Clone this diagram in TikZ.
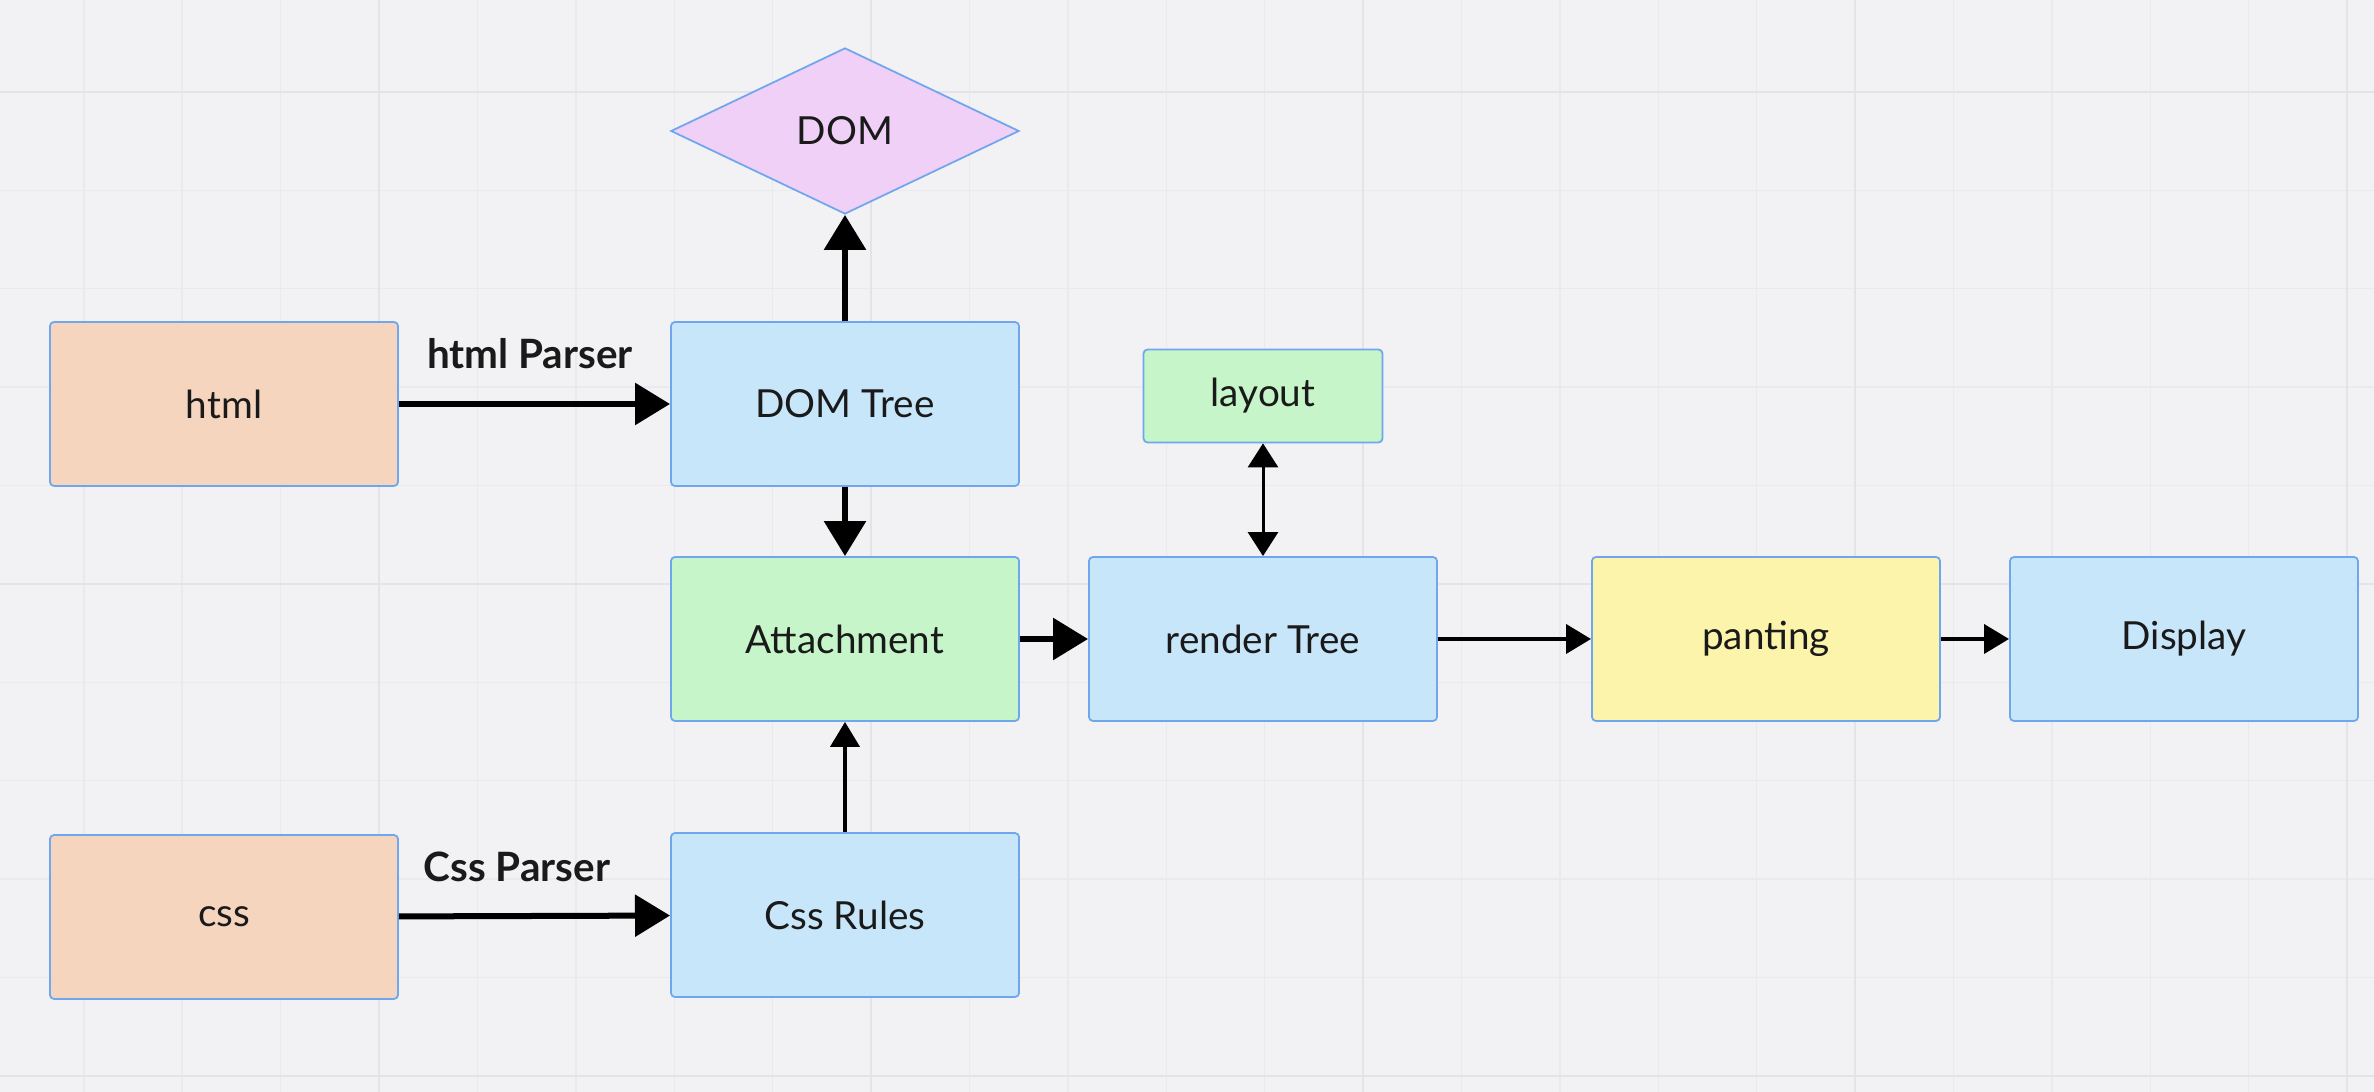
\documentclass[tikz,border=0pt]{standalone}
\usepackage{fontspec}
\setmainfont{Lato}
\usepackage{xcolor}
\usepackage{tikz}
\usetikzlibrary{positioning}
\usetikzlibrary{arrows.meta}
\usetikzlibrary{shapes.geometric}
\definecolor{canvas}{HTML}{F2F2F4}
\definecolor{gridminor}{HTML}{EAEAEE}
\definecolor{gridmajor}{HTML}{E3E3E8}
\definecolor{edgeblue}{HTML}{6FA6EE}
\definecolor{peach}{HTML}{F5D5BE}
\definecolor{skyblue}{HTML}{C8E6FA}
\definecolor{mint}{HTML}{C6F5CA}
\definecolor{lemon}{HTML}{FCF4AB}
\definecolor{lilac}{HTML}{F0D0F6}
\definecolor{ink}{HTML}{1A1A1A}
\tikzset{
	every node/.style={
		font=\fontsize{11}{13}\selectfont,
		text=ink},
	box/.style={
		draw=edgeblue,
		line width=0.5pt,
		rounded corners=1.2pt,
		minimum width=3.48cm,
		minimum height=1.64cm,
		inner sep=0pt},
	smallbox/.style={
		box,
		minimum width=2.39cm,
		minimum height=0.93cm},
	decision/.style={
		diamond,
		draw=edgeblue,
		line width=0.5pt,
		fill=lilac,
		aspect=2.1,
		minimum width=3.48cm,
		minimum height=1.66cm,
		inner sep=0pt},
	flowlabel/.style={
		font=\fontsize{11.5}{13}\selectfont\bfseries},
	bigarrow/.style={
		draw,
		line width=0.06cm,
		-{Triangle[length=0.35cm,width=0.41cm]}},
	smallarrow/.style={
		draw,
		line width=0.04cm,
		-{Triangle[length=0.25cm,width=0.29cm]}},
	twoway/.style={
		draw,
		line width=0.03cm,
		{Triangle[length=0.24cm,width=0.30cm]}-{Triangle[length=0.24cm,width=0.30cm]}}
}

\begin{document}
\begin{tikzpicture}[x=0.01cm, y=-0.01cm]
	% canvas and grid
	\fill[canvas] (0,0) rectangle (2374,1092);
	\useasboundingbox (0,0) rectangle (2374,1092);
	\foreach \i in {0,...,23}
		\draw[gridminor, line width=0.4pt] ({83.8+98.4*\i},0) -- ({83.8+98.4*\i},1092);
	\foreach \i in {0,...,10}
		\draw[gridminor, line width=0.4pt] (0,{-6.4+98.4*\i}) -- (2374,{-6.4+98.4*\i});
	\foreach \i in {0,...,4}
		\draw[gridmajor, line width=0.8pt] ({379+492*\i},0) -- ({379+492*\i},1092);
	\foreach \i in {0,...,2}
		\draw[gridmajor, line width=0.8pt] (0,{92+492*\i}) -- (2374,{92+492*\i});

	% nodes
	\node[box, fill=peach] (html) at (224,404) {html};
	\node[box, fill=peach] (css) at (224,917) {css};
	\node[box, fill=skyblue] (domtree) at (845,404) {DOM Tree};
	\node[decision] (dom) at (845,131) {DOM};
	\node[box, fill=mint] (attach) at (845,639) {Attachment};
	\node[box, fill=skyblue] (cssrules) at (845,915) {Css Rules};
	\node[smallbox, fill=mint] (layout) at (1263,396) {layout};
	\node[box, fill=skyblue] (render) at (1263,639) {render Tree};
	\node[box, fill=lemon] (panting) at (1766,639) {panting};
	\node[box, fill=skyblue] (display) at (2184,639) {Display};

	% edge labels
	\node[flowlabel] (htmlparser) at (530,354) {html Parser};
	\node[flowlabel] (cssparser) at (517,867) {Css Parser};

	% connectors
	\draw[bigarrow] (html) -- (domtree);
	\draw[bigarrow] (css) -- (cssrules);
	\draw[bigarrow] (domtree) -- (dom);
	\draw[bigarrow] (domtree) -- (attach);
	\draw[smallarrow] (cssrules) -- (attach);
	\draw[bigarrow] (attach) -- (render);
	\draw[twoway] (layout) -- (render);
	\draw[smallarrow] (render) -- (panting);
	\draw[smallarrow] (panting) -- (display);
\end{tikzpicture}
\end{document}
